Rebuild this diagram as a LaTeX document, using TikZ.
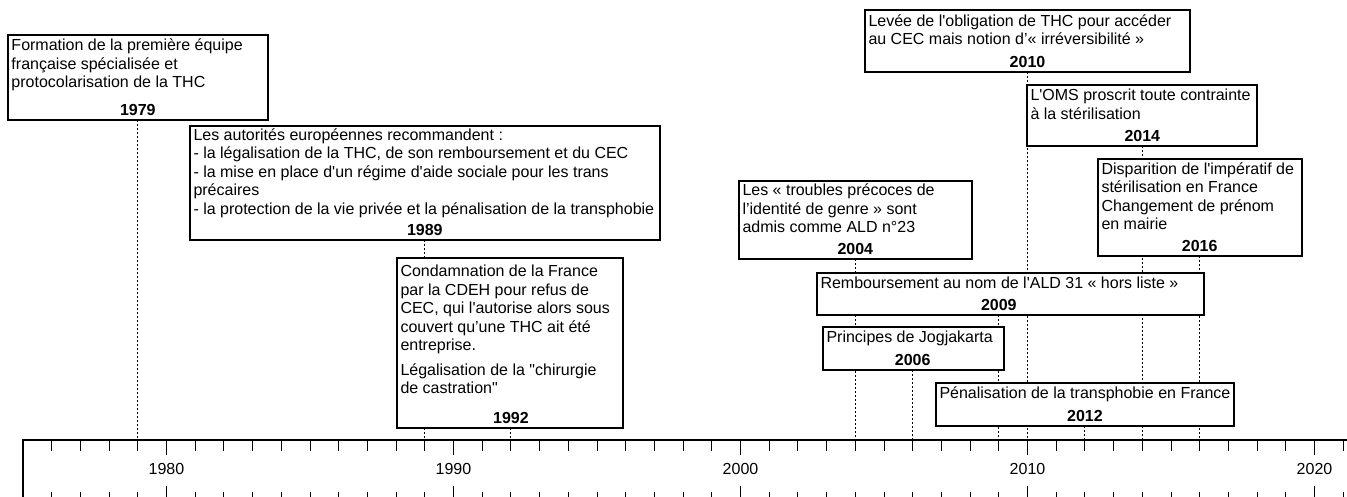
\documentclass[tikz,border=0pt]{standalone}
\usepackage{fontspec}
\setmainfont{Liberation Sans}[Ligatures=TeXOff]
\pgfdeclarelayer{bg}
\pgfsetlayers{bg,main}
\tikzset{
  evbox/.style={draw=black, fill=white, line width=1.3pt, anchor=north west,
    inner xsep=3.5pt, inner ysep=0pt, outer sep=0pt, align=flush left,
    font=\fontsize{16}{18.5}\selectfont},
  yrlab/.style={anchor=base, inner sep=0pt, yshift=4.5pt,
    font=\fontsize{16}{18.5}\selectfont\bfseries},
  lead/.style={line width=1pt, dash pattern=on 2pt off 2pt},
  tickline/.style={line width=1pt},
  axisline/.style={line width=1.2pt},
  decadelab/.style={inner sep=0pt, font=\fontsize{16}{18.5}\selectfont}
}
\begin{document}
\begin{tikzpicture}[x=1pt,y=-1pt]
\useasboundingbox (0,0) rectangle (1347,497);
% axis
\coordinate (a0) at (23,440);
\coordinate (a1) at (1347,440);
\coordinate (a2) at (23,497);
\draw[axisline] (a2) -- (a0) -- (a1);
\foreach \yy in {1976,...,2021}{
  \draw[tickline] ({23+(\yy-1975)*28.7},440) -- ++(0,11);
  \draw[tickline] ({23+(\yy-1975)*28.7},492) -- ++(0,5);
}
\foreach \yy in {1980,1990,2000,2010,2020}{
  \draw[tickline] ({23+(\yy-1975)*28.7},440) -- ++(0,15);
  \draw[tickline] ({23+(\yy-1975)*28.7},486) -- ++(0,11);
  \node[decadelab] (lbl\yy) at ({23+(\yy-1975)*28.7},469) {\yy};
}
% event coordinates on the axis
\foreach \yy in {1979,1989,1992,2004,2006,2009,2010,2012,2014,2016}{
  \coordinate (t\yy) at ({23+(\yy-1975)*28.7},440);
}
% boxes
\node[evbox, text width=253pt, minimum height=85pt] (b1979) at (8,35)
 {\strut Formation de la première équipe\\française spécialisée et\\protocolarisation de la THC\\[5pt]\strut};
\node[evbox, text width=463pt, minimum height=114pt] (b1989) at (190,126)
 {\strut Les autorités européennes recommandent :\\- la légalisation de la THC, de son remboursement et du CEC\\- la mise en place d'un régime d'aide sociale pour les trans\\précaires\\- la protection de la vie privée et la pénalisation de la transphobie\\\strut};
\node[evbox, text width=219pt, minimum height=170pt] (b1992) at (397,258)
 {\strut Condamnation de la France\\par la CDEH pour refus de\\CEC, qui l'autorise alors sous\\couvert qu’une THC ait été\\entreprise.\\[6pt]Légalisation de la "chirurgie\\de castration"\\[4pt]\strut};
\node[evbox, text width=226pt, minimum height=78pt] (b2004) at (739,181)
 {\strut Les « troubles précoces de\\l’identité de genre » sont\\admis comme ALD n°23\\\strut};
\node[evbox, text width=318pt, minimum height=62pt] (b2010) at (865,10)
 {\strut Levée de l'obligation de THC pour accéder\\au CEC mais notion d’« irréversibilité »\\\strut};
\node[evbox, text width=223pt, minimum height=61pt] (b2014) at (1027,85)
 {\strut L'OMS proscrit toute contrainte\\à la stérilisation\\\strut};
\node[evbox, text width=197pt, minimum height=97pt] (b2016) at (1098,159)
 {\strut Disparition de l'impératif de\\stérilisation en France\\Changement de prénom\\en mairie\\\strut};
\node[evbox, text width=380pt, minimum height=42pt] (b2009) at (817,273)
 {\strut Remboursement au nom de l'ALD 31 « hors liste »\\\strut};
\node[evbox, text width=174pt, minimum height=43pt] (b2006) at (823,327)
 {\strut Principes de Jogjakarta\\\strut};
\node[evbox, text width=291pt, minimum height=43pt] (b2012) at (936,383)
 {\strut Pénalisation de la transphobie en France\\\strut};
% year labels
\foreach \yy in {1979,1989,1992,2004,2006,2009,2010,2012,2014,2016}{
  \node[yrlab] (y\yy) at (b\yy.south -| t\yy) {\yy};
}
% leaders
\begin{pgfonlayer}{bg}
\foreach \yy in {1979,1989,1992,2004,2006,2009,2010,2012,2014,2016}{
  \draw[lead] (b\yy.south -| t\yy) -- (t\yy);
}
\end{pgfonlayer}
\end{tikzpicture}
\end{document}
